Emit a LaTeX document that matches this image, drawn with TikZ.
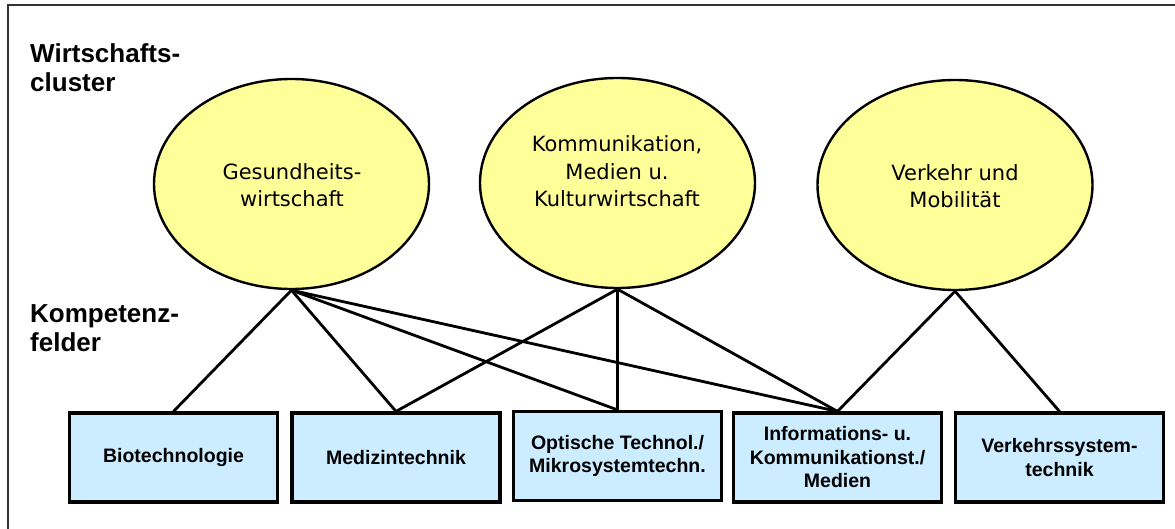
\documentclass[tikz,border=0pt]{standalone}
\usepackage{fontspec}
\setmainfont{Liberation Sans}
\newfontfamily\clusterfont{DejaVu Sans}
\usetikzlibrary{shapes.geometric}
\definecolor{clusteryellow}{RGB}{255,255,153}
\definecolor{feldblue}{RGB}{204,236,255}
\definecolor{framegray}{RGB}{51,51,51}
\tikzset{
  cluster/.style = {ellipse, draw, line width=2.4pt, fill=clusteryellow,
    minimum width=275pt, minimum height=210pt, inner sep=0pt},
  clustertext/.style = {anchor=base, align=center, inner sep=0pt,
    font=\clusterfont\fontsize{21}{27.5}\selectfont},
  feld/.style = {draw, line width=3.2pt, fill=feldblue, minimum width=208pt,
    minimum height=89pt, inner sep=0pt, align=center,
    font=\bfseries\fontsize{19.5}{23.5}\selectfont},
  heading/.style = {anchor=base west, align=left, inner sep=0pt,
    font=\bfseries\fontsize{26}{29}\selectfont},
  link/.style = {line width=2.8pt, line cap=round}
}

\begin{document}
\begin{tikzpicture}[x=1pt, y=-1pt]
\useasboundingbox (0,0) rectangle (1175,529);
\draw [framegray, line width=1.2pt] (8,529) -- (8,5) -- (1175,5);

% row labels (base = last line)
\node [heading] (clusterlabel) at (30,92) {Wirtschafts-\\cluster};
\node [heading] (felderlabel) at (30,351) {Kompetenz-\\felder};

% clusters
\node [cluster] (gesundheit) at (291.5,184) {};
\node [cluster] (kommunikation) at (617.5,183) {};
\node [cluster] (verkehr) at (955,185) {};
\node [clustertext] (gesundheit-txt) at (292,207) {Gesundheits-\\wirtschaft};
\node [clustertext] (kommunikation-txt) at (617,207) {Kommunikation,\\Medien u.\\Kulturwirtschaft};
\node [clustertext] (verkehr-txt) at (955,208) {Verkehr und\\Mobilität};

% fields
\node [feld] (bio) at (173.5,457.5) {Biotechnologie};
\node [feld] (medizin) at (396,457.5) {Medizintechnik};
\node [feld] (optik) at (617.5,456) {Optische Technol./\\Mikrosystemtechn.};
\node [feld] (ikt) at (837.5,457.5) {Informations- u.\\Kommunikationst./\\Medien};
\node [feld] (verkehrstechnik) at (1059.5,457.5) {Verkehrssystem-\\technik};

% links
\foreach \f in {bio,medizin,optik,ikt}
  \draw [link] (gesundheit.south) -- (\f.north);
\foreach \f in {medizin,optik,ikt}
  \draw [link] (kommunikation.south) -- (\f.north);
\foreach \f in {ikt,verkehrstechnik}
  \draw [link] (verkehr.south) -- (\f.north);
\end{tikzpicture}
\end{document}
